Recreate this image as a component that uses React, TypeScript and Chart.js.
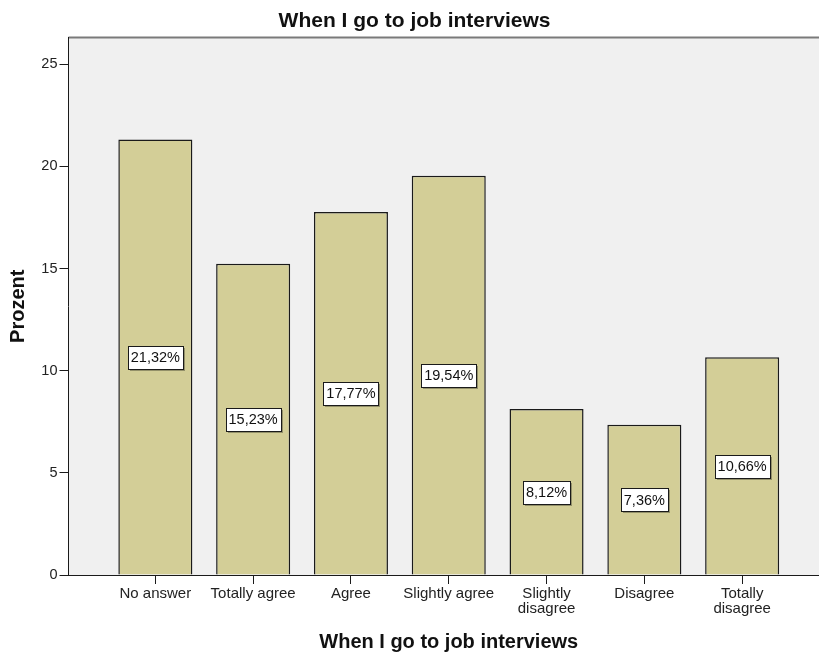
import React, { useEffect, useRef } from "react";
import { Chart, registerables } from "chart.js";

Chart.register(...registerables);

const categories: (string | string[])[] = [
  "No answer",
  "Totally agree",
  "Agree",
  "Slightly agree",
  ["Slightly", "disagree"],
  "Disagree",
  ["Totally", "disagree"],
];
const percentValues: number[] = [21.32, 15.23, 17.77, 19.54, 8.12, 7.36, 10.66];
const yTickValues: number[] = [0, 5, 10, 15, 20, 25];
const chartTitle = "When I go to job interviews";
const xAxisTitle = "When I go to job interviews";
const yAxisTitle = "Prozent";

const FONT = "'Liberation Sans', Arial, sans-serif";

const bgPlugin = {
  id: "plotBg",
  beforeDraw(chart: any) {
    const { ctx, chartArea } = chart;
    ctx.save();
    ctx.fillStyle = "#f0f0f0";
    ctx.fillRect(chartArea.left, chartArea.top, chartArea.right - chartArea.left, chartArea.bottom - chartArea.top);
    ctx.strokeStyle = "#7a7a7a";
    ctx.lineWidth = 2;
    ctx.beginPath();
    ctx.moveTo(chartArea.left, chartArea.top);
    ctx.lineTo(chartArea.right, chartArea.top);
    ctx.stroke();
    ctx.restore();
  },
};

const labelPlugin = {
  id: "barLabels",
  afterDatasetsDraw(chart: any) {
    const { ctx } = chart;
    const meta = chart.getDatasetMeta(0);
    const yScale = chart.scales.y;
    ctx.save();
    ctx.font = "14.5px " + FONT;
    ctx.textAlign = "center";
    ctx.textBaseline = "middle";
    meta.data.forEach((el: any, i: number) => {
      const v = percentValues[i];
      const text = v.toFixed(2).replace(".", ",") + "%";
      const cx = el.x;
      const cy = yScale.getPixelForValue(v / 2);
      const w = Math.round(ctx.measureText(text).width + 6);
      const h = 23;
      const x0 = Math.round(cx - w / 2) + 0.5;
      const y0 = Math.round(cy - h / 2) + 0.5;
      ctx.fillStyle = "rgba(0,0,0,0.3)";
      ctx.fillRect(x0 + 1.5, y0 + 1.5, w, h);
      ctx.fillStyle = "#ffffff";
      ctx.fillRect(x0, y0, w, h);
      ctx.strokeStyle = "#1a1a1a";
      ctx.lineWidth = 1;
      ctx.strokeRect(x0, y0, w, h);
      ctx.fillStyle = "#111";
      ctx.fillText(text, cx, cy + 1);
    });
    ctx.restore();
  },
};

export default function App() {
  const ref = useRef<HTMLCanvasElement | null>(null);
  useEffect(() => {
    if (!ref.current) return;
    const chart = new Chart(ref.current, {
      type: "bar",
      data: {
        datasets: [
          {
            data: percentValues.map((v, i) => ({ x: i, y: v })),
            backgroundColor: "#d3ce97",
            borderColor: "#1a1a1a",
            borderWidth: 1.5,
            barPercentage: 0.757,
            categoryPercentage: 1,
          },
        ],
      },
      options: {
        animation: false,
        responsive: false,
        layout: { padding: { left: 0, right: 2, top: 0, bottom: 0 } },
        plugins: {
          legend: { display: false },
          tooltip: { enabled: false },
          title: {
            display: true,
            text: chartTitle,
            color: "#111",
            font: { family: FONT, size: 21, weight: "bold", lineHeight: 1.1 },
            padding: { top: 10, bottom: 4.4 },
          },
        },
        scales: {
          x: {
            type: "linear",
            offset: false,
            min: -0.888,
            max: 6.888,
            afterFit: (s: any) => {
              s.height = 80;
            },
            afterBuildTicks: (s: any) => {
              s.ticks = categories.map((_, i) => ({ value: i }));
            },
            ticks: {
              autoSkip: false,
              maxRotation: 0,
              padding: 3,
              color: "#222",
              font: { family: FONT, size: 15, lineHeight: 0.95 },
              callback: (v: any) => categories[v as number] as any,
            },
            grid: { offset: false, drawOnChartArea: false, drawTicks: true, tickLength: 9, color: "#1a1a1a" },
            border: { display: true, color: "#1a1a1a", width: 1 },
            title: {
              display: true,
              text: xAxisTitle,
              color: "#111",
              font: { family: FONT, size: 20, weight: "bold", lineHeight: 1.1 },
              padding: { top: 0, bottom: 2 },
            },
          },
          y: {
            min: 0,
            max: 26.31,
            afterFit: (s: any) => {
              s.width = 68.5;
            },
            afterBuildTicks: (s: any) => {
              s.ticks = yTickValues.map((v) => ({ value: v }));
            },
            ticks: {
              padding: 2,
              color: "#222",
              font: { family: FONT, size: 14.5 },
            },
            grid: { drawOnChartArea: false, drawTicks: true, tickLength: 9, color: "#1a1a1a" },
            border: { display: true, color: "#1a1a1a", width: 1 },
            title: {
              display: true,
              text: yAxisTitle,
              color: "#111",
              font: { family: FONT, size: 20, weight: "bold", lineHeight: 1.1 },
              padding: { top: 7, bottom: 0 },
            },
          },
        },
      },
      plugins: [bgPlugin, labelPlugin],
    });
    return () => chart.destroy();
  }, []);
  return (
    <div style={{ position: "fixed", left: 0, top: 0, width: 819, height: 655, overflow: "hidden", background: "#fff" }}>
      <canvas ref={ref} width={831} height={655} style={{ display: "block" }} />
    </div>
  );
}
